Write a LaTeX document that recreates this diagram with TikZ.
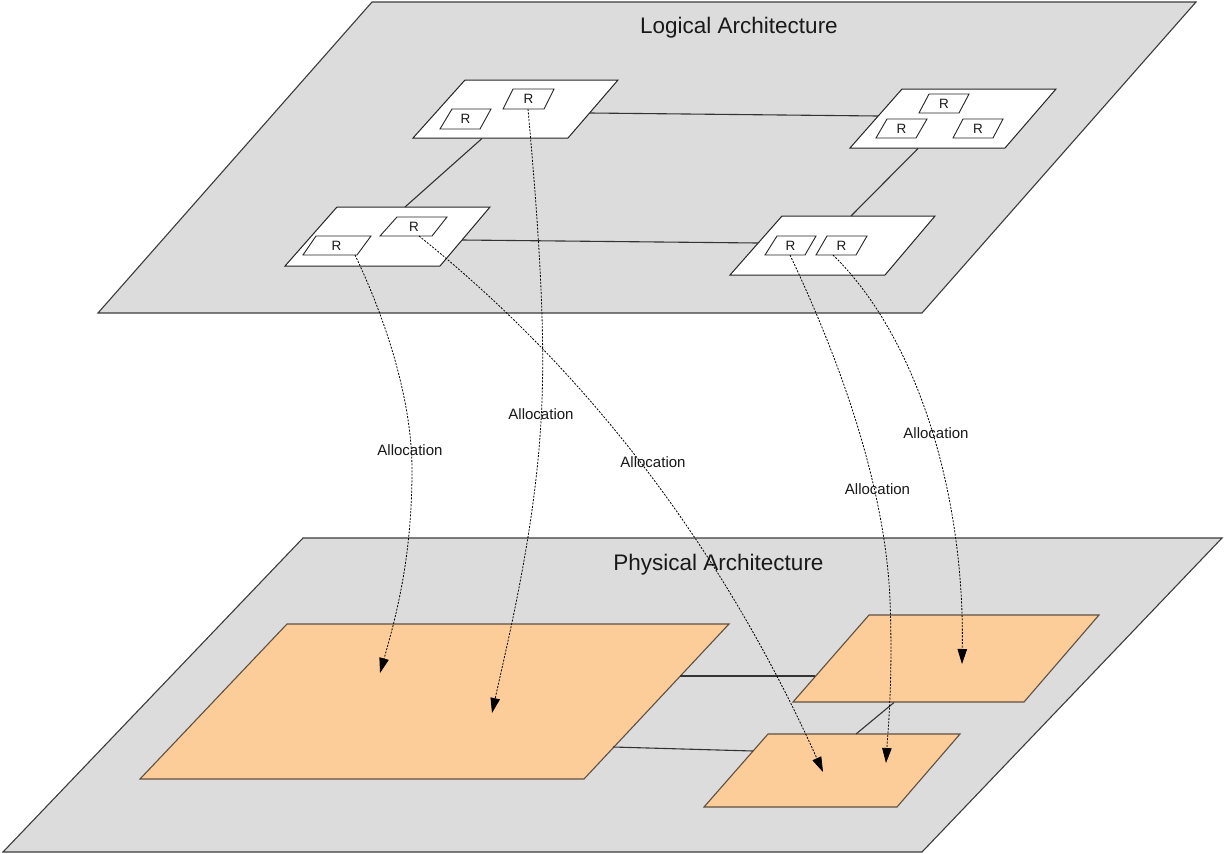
\documentclass[tikz,border=0pt]{standalone}
\usepackage{fontspec}
\setmainfont{Liberation Sans}
\usetikzlibrary{arrows.meta}
\definecolor{planegray}{RGB}{220,220,220}
\definecolor{planeedge}{RGB}{60,60,60}
\definecolor{peach}{RGB}{252,204,153}
\definecolor{peachedge}{RGB}{95,80,65}
\definecolor{txt}{RGB}{25,25,25}
\begin{document}
\begin{tikzpicture}[x=1pt,y=-1pt,
  plane/.style={fill=planegray,draw=planeedge,line width=1.1pt},
  box/.style={fill=white,draw=black!85,line width=1pt},
  rbox/.style={fill=white,draw=black!85,line width=0.9pt},
  phys/.style={fill=peach,draw=peachedge,line width=1.1pt},
  link/.style={draw=black!80,line width=1.1pt},
  alloc/.style={draw=black,line width=0.8pt,dash pattern=on 2pt off 1.4pt,-{Triangle[length=15pt,width=9.5pt]}},
  rlabel/.style={font=\fontsize{13.5}{13.5}\selectfont,text=txt,inner sep=0pt},
  alabel/.style={font=\fontsize{15}{15}\selectfont,text=txt,inner sep=0pt,anchor=base},
  title/.style={font=\fontsize{22.5}{22.5}\selectfont,text=txt,inner sep=0pt,anchor=base}]
\useasboundingbox (0,0) rectangle (1224,854);
\fill[white] (0,0) rectangle (1224,854);

% ---------------- Logical plane ----------------
\draw[plane] (372,2) -- (1196,2) -- (922,313) -- (98,313) -- cycle;
\node[title] (logt) at (739,33) {Logical Architecture};

% boxes
\draw[box] (465,80) -- (618,80) -- (568,138) -- (413,138) -- cycle;
\draw[box] (902,89) -- (1056,89) -- (1005,148) -- (850,148) -- cycle;
\draw[box] (337,207) -- (490,207) -- (440,266) -- (285,266) -- cycle;
\draw[box] (782,216) -- (935,216) -- (885,275) -- (730,275) -- cycle;

% R boxes
\draw[rbox] (452,109) -- (491,109) -- (480,129) -- (440,129) -- cycle;
\node[rlabel] (rtl1) at (465.5,119) {R};
\draw[rbox] (513,89) -- (554,89) -- (544,109) -- (503,109) -- cycle;
\node[rlabel] (rtl2) at (528.5,99) {R};

\draw[rbox] (929,94) -- (969,94) -- (959,113) -- (919,113) -- cycle;
\node[rlabel] (rtr1) at (944,103.5) {R};
\draw[rbox] (887,119) -- (927,119) -- (916,138) -- (876,138) -- cycle;
\node[rlabel] (rtr2) at (901.5,128.5) {R};
\draw[rbox] (963,119) -- (1003,119) -- (993,138) -- (953,138) -- cycle;
\node[rlabel] (rtr3) at (978,128.5) {R};

\draw[rbox] (316,236) -- (371,236) -- (357,255) -- (303,255) -- cycle;
\node[rlabel] (rbl1) at (336.5,245.5) {R};
\draw[rbox] (397,217) -- (447,217) -- (432,236) -- (380,236) -- cycle;
\node[rlabel] (rbl2) at (414,226.5) {R};

\draw[rbox] (777,236) -- (816,236) -- (805,255) -- (765,255) -- cycle;
\node[rlabel] (rbr1) at (790.5,245.5) {R};
\draw[rbox] (827,236) -- (867,236) -- (856,255) -- (816,255) -- cycle;
\node[rlabel] (rbr2) at (841.5,245.5) {R};

% logical links
\coordinate (tl-b) at (482,138.5);
\coordinate (bl-t) at (405,207);
\coordinate (tl-r) at (590,113);
\coordinate (tr-l) at (878,116);
\coordinate (bl-r) at (462,240);
\coordinate (br-l) at (758,243);
\coordinate (tr-b) at (918,148.5);
\coordinate (br-t) at (851,216);
\draw[link] (tl-b) -- (bl-t);
\draw[link] (tl-r) -- (tr-l);
\draw[link] (bl-r) -- (br-l);
\draw[link] (tr-b) -- (br-t);

% ---------------- Physical plane ----------------
\draw[plane] (303,538) -- (1222,538) -- (922,852) -- (3,852) -- cycle;
\node[title] (phyt) at (718.5,570) {Physical Architecture};

\draw[phys] (287,624) -- (729,624) -- (584,779) -- (140,779) -- cycle;
\draw[phys] (869,615) -- (1099,615) -- (1024,702) -- (793,702) -- cycle;
\draw[phys] (768,734) -- (960,734) -- (897,807) -- (704,807) -- cycle;

\coordinate (big-r1) at (680,676);
\coordinate (po1-l) at (815,676);
\coordinate (big-r2) at (613,747);
\coordinate (po2-l) at (753,751);
\coordinate (po1-b) at (894,702.5);
\coordinate (po2-t) at (856,734);
\draw[link] (big-r1) -- (po1-l);
\draw[link] (big-r2) -- (po2-l);
\draw[link] (po1-b) -- (po2-t);

% ---------------- Allocations ----------------
\coordinate (a1s) at (355,255);
\coordinate (a1e) at (380,673);
\coordinate (a2s) at (528,109);
\coordinate (a2e) at (492,713);
\coordinate (a3s) at (419,236);
\coordinate (a3e) at (823,772);
\coordinate (a4s) at (790,255);
\coordinate (a4e) at (886,763);
\coordinate (a5s) at (833,255);
\coordinate (a5e) at (962,664);

\draw[alloc] (a1s) .. controls (386,320) and (412,400) .. (412,470)
              .. controls (412,560) and (395,620) .. (a1e);
\draw[alloc] (a2s) .. controls (538,220) and (545,320) .. (542,400)
              .. controls (538,520) and (508,640) .. (a2e);
\draw[alloc] (a3s) .. controls (606,386) and (733,572) .. (a3e);
\draw[alloc] (a4s) .. controls (835,350) and (885,480) .. (890,600)
              .. controls (893,680) and (888,730) .. (a4e);
\draw[alloc] (a5s) .. controls (920,340) and (965,500) .. (a5e);

\node[alabel] (l1) at (410,455) {Allocation};
\node[alabel] (l2) at (541,419) {Allocation};
\node[alabel] (l3) at (653,467) {Allocation};
\node[alabel] (l4) at (877.5,494) {Allocation};
\node[alabel] (l5) at (936,438) {Allocation};
\end{tikzpicture}
\end{document}
